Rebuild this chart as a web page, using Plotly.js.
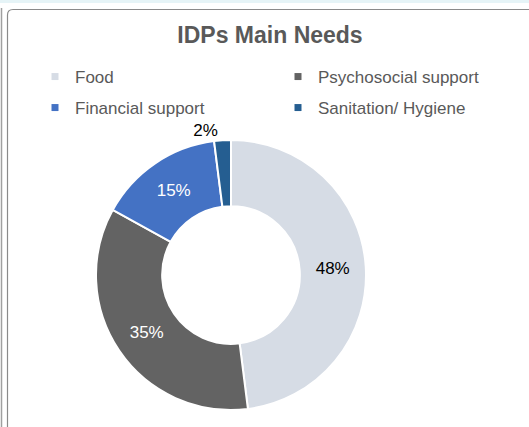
<!DOCTYPE html>
<html>
<head>
<meta charset="utf-8">
<script src="https://cdn.plot.ly/plotly-3.0.1.min.js"></script>
<style>
html,body{margin:0;padding:0;background:#fff;}
#chart{width:529px;height:427px;}
</style>
</head>
<body>
<div id="chart"></div>
<script>
const categories = ["Food", "Psychosocial support", "Financial support", "Sanitation/ Hygiene"];
const values = [48, 35, 15, 2];
const colors = ["#d6dce5", "#636363", "#4472c4", "#255e91"];
const textColors = ["#000000", "#ffffff", "#ffffff", "#000000"];
const textPositions = ["inside", "inside", "inside", "outside"];

const W = 529, H = 427;
const fx = p => p / W, fy = p => 1 - p / H;

const pie = {
  type: "pie",
  labels: categories,
  values: values,
  sort: false,
  direction: "clockwise",
  rotation: 0,
  hole: 0.51,
  marker: {colors: colors, line: {color: "#ffffff", width: 2}},
  textinfo: "percent",
  texttemplate: "%{percent:.0%}",
  textposition: textPositions,
  insidetextorientation: "horizontal",
  textfont: {family: "Liberation Sans, Arial, sans-serif", size: 17, color: textColors},
  outsidetextfont: {family: "Liberation Sans, Arial, sans-serif", size: 17, color: "#000000"},
  showlegend: false,
  domain: {x: [fx(231 - 135), fx(231 + 135)], y: [fy(410), fy(140)]},
  hoverinfo: "label+percent"
};

const legendTraces = categories.map((c, i) => ({
  type: "scatter",
  mode: "markers",
  x: [null], y: [null],
  name: c,
  marker: {symbol: "square", size: 7, color: colors[i]},
  legend: i < 2 ? "legend" : "legend2",
  showlegend: true,
  hoverinfo: "skip"
}));

const legendFont = {family: "Liberation Sans, Arial, sans-serif", size: 17, color: "#595959"};

const layout = {
  width: W, height: H,
  margin: {l: 0, r: 0, t: 0, b: 0},
  paper_bgcolor: "#ffffff",
  plot_bgcolor: "rgba(0,0,0,0)",
  xaxis: {visible: false, domain: [0, 0.01]},
  yaxis: {visible: false, domain: [0, 0.01]},
  title: {
    text: "<b>IDPs Main Needs</b>",
    font: {family: "Liberation Sans, Arial, sans-serif", size: 23, color: "#595959"},
    x: fx(270), xanchor: "center", y: fy(35), yanchor: "middle"
  },
  legend: {
    orientation: "h", x: fx(35), xanchor: "left", y: fy(77), yanchor: "middle",
    entrywidth: 198, entrywidthmode: "pixels",
    font: legendFont, bgcolor: "rgba(0,0,0,0)"
  },
  legend2: {
    orientation: "h", x: fx(35), xanchor: "left", y: fy(108), yanchor: "middle",
    entrywidth: 198, entrywidthmode: "pixels",
    font: legendFont, bgcolor: "rgba(0,0,0,0)"
  },
  shapes: [
    {type: "rect", xref: "paper", yref: "paper", x0: 0, x1: 1, y0: fy(0), y1: fy(3),
     fillcolor: "#e6f4f7", line: {width: 0}, layer: "below"},
    {type: "line", xref: "paper", yref: "paper", x0: fx(1.5), x1: fx(1.5), y0: fy(8), y1: 0,
     line: {color: "#a0a0a0", width: 1.5}, layer: "below"},
    {type: "path", xref: "paper", yref: "paper",
     path: "M" + fx(7.5) + "," + fy(440) + " L" + fx(7.5) + "," + fy(15) +
           " Q" + fx(7.5) + "," + fy(9.5) + " " + fx(13) + "," + fy(9.5) +
           " L" + fx(540) + "," + fy(9.5),
     line: {color: "#8a8a8a", width: 1.2}, layer: "below"}
  ]
};

Plotly.newPlot("chart", [pie].concat(legendTraces), layout, {displayModeBar: false, staticPlot: true});
</script>
</body>
</html>
